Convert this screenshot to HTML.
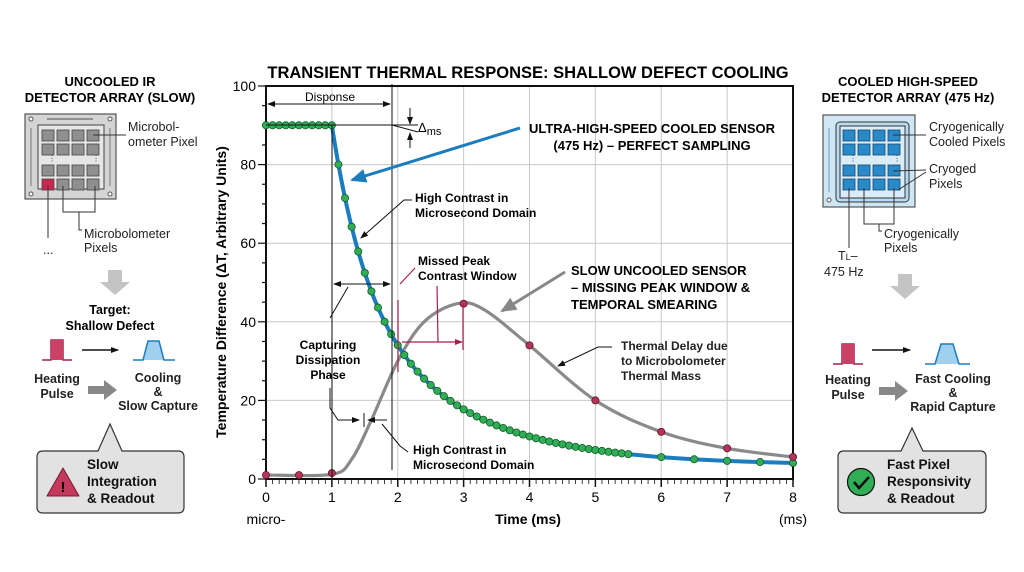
<!DOCTYPE html>
<html><head><meta charset="utf-8"><style>
html,body{margin:0;padding:0;background:#fff;}
svg{display:block;font-family:"Liberation Sans",Arial,sans-serif;}
.b{font-weight:bold;}
</style></head><body>
<svg id="s" width="1024" height="572" viewBox="0 0 1024 572" xmlns="http://www.w3.org/2000/svg">
<defs>
<marker id="ak" markerWidth="8" markerHeight="8" refX="7" refY="4" orient="auto-start-reverse" markerUnits="userSpaceOnUse"><path d="M0,1 L8,4 L0,7 z" fill="#111"/></marker>
<marker id="ar" markerWidth="8" markerHeight="8" refX="7" refY="4" orient="auto" markerUnits="userSpaceOnUse"><path d="M0,1 L8,4 L0,7 z" fill="#a3224a"/></marker>
<marker id="ab" markerWidth="16" markerHeight="14" refX="14" refY="7" orient="auto" markerUnits="userSpaceOnUse"><path d="M0,0 L16,7 L0,14 z" fill="#1a7dc0"/></marker>
<marker id="ag" markerWidth="16" markerHeight="14" refX="14" refY="7" orient="auto" markerUnits="userSpaceOnUse"><path d="M0,0 L16,7 L0,14 z" fill="#888"/></marker>
</defs>
<rect width="1024" height="572" fill="#fff"/>
<g id="grid" stroke="#c8c8c8" stroke-width="1"></g>
<text x="528" y="78" text-anchor="middle" class="b" font-size="16.5">TRANSIENT THERMAL RESPONSE: SHALLOW DEFECT COOLING</text>
<g id="axes"></g>
<g id="curves"></g>

<g stroke="#111" stroke-width="1" fill="none">
<line x1="266" y1="125" x2="418" y2="125"/>
<line x1="392" y1="125" x2="418" y2="132"/>
<line x1="392" y1="84" x2="392" y2="470"/>
<line x1="332" y1="125" x2="332" y2="479"/>
<line x1="268" y1="104" x2="390" y2="104" marker-end="url(#ak)" marker-start="url(#ak)"/>
<line x1="410" y1="108" x2="410" y2="124" marker-end="url(#ak)"/>
<line x1="410" y1="148" x2="410" y2="133" marker-end="url(#ak)"/>
<line x1="334" y1="284" x2="390" y2="284" marker-end="url(#ak)" marker-start="url(#ak)"/>
<path d="M412,200 L404,200 L361,238" marker-end="url(#ak)"/>
<path d="M348,287 L330,318 M330,388 L330,408 L338,420 L359,420" marker-end="url(#ak)"/>
<line x1="387" y1="420" x2="368" y2="420" marker-end="url(#ak)"/>
<line x1="364" y1="413" x2="364" y2="427"/>
<path d="M408,452 L400,446 L382,424"/>
<path d="M612,347 L598,347 L558,366" marker-end="url(#ak)"/>
</g>
<g stroke="#a3224a" stroke-width="1.2" fill="none">
<line x1="398" y1="300" x2="398" y2="372"/>
<line x1="415" y1="268" x2="400" y2="284"/>
<line x1="437" y1="286" x2="438" y2="342"/>
<line x1="463" y1="304" x2="463" y2="350"/>
<line x1="402" y1="342" x2="462" y2="342" marker-end="url(#ar)"/>
</g>
<line x1="520" y1="128" x2="352" y2="180" stroke="#1a7dc0" stroke-width="3" marker-end="url(#ab)"/>
<line x1="565" y1="272" x2="502" y2="311" stroke="#888" stroke-width="3" marker-end="url(#ag)"/>

<text x="330" y="101" text-anchor="middle" font-size="12">Disponse</text>
<text x="418" y="132" font-size="13">Δ<tspan font-size="11" dy="3">ms</tspan></text>
<text class="b" font-size="13" text-anchor="middle"><tspan x="652" y="133">ULTRA-HIGH-SPEED COOLED SENSOR</tspan><tspan x="652" y="150">(475 Hz) – PERFECT SAMPLING</tspan></text>
<text font-size="12" class="b"><tspan x="415" y="202">High Contrast in</tspan><tspan x="415" y="217">Microsecond Domain</tspan></text>
<text font-size="12" class="b"><tspan x="418" y="265">Missed Peak</tspan><tspan x="418" y="280">Contrast Window</tspan></text>
<text font-size="13" class="b"><tspan x="571" y="275">SLOW UNCOOLED SENSOR</tspan><tspan x="571" y="292">– MISSING PEAK WINDOW &amp;</tspan><tspan x="571" y="309">TEMPORAL SMEARING</tspan></text>
<text font-size="12" class="b" fill="#222"><tspan x="621" y="350">Thermal Delay due</tspan><tspan x="621" y="365">to Microbolometer</tspan><tspan x="621" y="380">Thermal Mass</tspan></text>
<text font-size="12" class="b" text-anchor="middle"><tspan x="328" y="349">Capturing</tspan><tspan x="328" y="364">Dissipation</tspan><tspan x="328" y="379">Phase</tspan></text>
<text font-size="12" class="b"><tspan x="413" y="454">High Contrast in</tspan><tspan x="413" y="469">Microsecond Domain</tspan></text>

<!-- LEFT PANEL -->
<text class="b" font-size="13" text-anchor="middle"><tspan x="110" y="86">UNCOOLED IR</tspan><tspan x="110" y="102">DETECTOR ARRAY (SLOW)</tspan></text>
<rect x="25" y="114" width="91" height="85" fill="#d4d4d4" stroke="#555" stroke-width="1.2"/>
<rect x="38" y="125" width="66" height="64" fill="#e6e6e6" stroke="#444" stroke-width="1"/>
<line x1="47" y1="119" x2="93" y2="119" stroke="#666" stroke-width="1.2"/>
<line x1="31" y1="128" x2="31" y2="186" stroke="#888" stroke-width="1.2"/>
<line x1="110" y1="128" x2="110" y2="186" stroke="#888" stroke-width="1.2"/>
<g fill="#fff" stroke="#555"><circle cx="31" cy="119" r="2"/><circle cx="110" cy="119" r="2"/><circle cx="31" cy="194" r="2"/><circle cx="110" cy="194" r="2"/></g>
<g id="lpix"></g>
<g stroke="#333" stroke-width="1" fill="none">
<line x1="93" y1="135" x2="126" y2="135"/>
<line x1="48" y1="186" x2="48" y2="238"/>
<path d="M63,186 L63,212 L95,212 L95,186 M79,212 L79,230 L82,230"/>
</g>
<text font-size="12.5" fill="#222"><tspan x="128" y="131">Microbol-</tspan><tspan x="128" y="146">ometer Pixel</tspan><tspan x="84" y="238">Microbolometer</tspan><tspan x="84" y="252">Pixels</tspan><tspan x="43" y="254">...</tspan></text>
<path d="M108,270 h14 v12 h8 l-15,13 l-15,-13 h8 z" fill="#c4c4c4"/>
<text class="b" font-size="12.5" text-anchor="middle"><tspan x="110" y="314">Target:</tspan><tspan x="110" y="330">Shallow Defect</tspan></text>
<path d="M42,360 h9 v-20 h12 v20 h9" fill="#e6b8c2" stroke="#a3224a" stroke-width="1.5"/>
<path d="M51,360 v-20 h12 v20 z" fill="#c94164"/>
<line x1="82" y1="350" x2="118" y2="350" stroke="#111" stroke-width="1.5" marker-end="url(#ak)"/>
<path d="M133,360 h10 l5,-19 h11 l5,19 h11" fill="#9fd1ee" stroke="#1a7dc0" stroke-width="1.5"/>
<path d="M88,386 h16 v-6 l13,10 l-13,10 v-6 h-16 z" fill="#888"/>
<text class="b" font-size="12.5" text-anchor="middle" fill="#222"><tspan x="57" y="383">Heating</tspan><tspan x="57" y="398">Pulse</tspan><tspan x="158" y="382">Cooling</tspan><tspan x="158" y="396">&amp;</tspan><tspan x="158" y="410">Slow Capture</tspan></text>
<path d="M43,451 H98 L110,424 L122,451 H178 q6,0 6,6 V507 q0,6 -6,6 H43 q-6,0 -6,-6 V457 q0,-6 6,-6 z" fill="#e2e2e2" stroke="#333" stroke-width="1.2"/>
<path d="M63,468 L79,496 H47 z" fill="#c43a5c" stroke="#7a1a33" stroke-width="1" stroke-linejoin="round"/>
<text x="63" y="492" text-anchor="middle" class="b" font-size="15">!</text>
<text class="b" font-size="13.5" fill="#111"><tspan x="87" y="469">Slow</tspan><tspan x="87" y="486">Integration</tspan><tspan x="87" y="503">&amp; Readout</tspan></text>

<!-- RIGHT PANEL -->
<text class="b" font-size="13" text-anchor="middle"><tspan x="908" y="86">COOLED HIGH-SPEED</tspan><tspan x="908" y="102">DETECTOR ARRAY (475 Hz)</tspan></text>
<rect x="823" y="115" width="92" height="92" fill="#cfe6f4" stroke="#555" stroke-width="1.2"/>
<rect x="836" y="122" width="73" height="80" rx="4" fill="#b7dcf2" stroke="#333" stroke-width="1"/>
<rect x="840" y="126" width="65" height="72" fill="#d9ecf8" stroke="#333" stroke-width="1"/>
<line x1="829" y1="128" x2="829" y2="192" stroke="#7aa6c2" stroke-width="1.2"/>
<circle cx="829" cy="200" r="2" fill="#fff" stroke="#555"/>
<g id="rpix"></g>
<g stroke="#333" stroke-width="1" fill="none">
<line x1="893" y1="135" x2="926" y2="135"/>
<path d="M893,171 L926,170 M898,190 L926,172"/>
<line x1="849" y1="188" x2="849" y2="248"/>
<path d="M864,188 L864,224 L894,224 L894,188 M879,224 L879,231 L882,231"/>
</g>
<text font-size="12.5" fill="#222"><tspan x="929" y="131">Cryogenically</tspan><tspan x="929" y="146">Cooled Pixels</tspan><tspan x="929" y="173">Cryoged</tspan><tspan x="929" y="188">Pixels</tspan><tspan x="884" y="238">Cryogenically</tspan><tspan x="884" y="252">Pixels</tspan><tspan x="838" y="260">T<tspan font-size="9">L</tspan>–</tspan><tspan x="824" y="276">475 Hz</tspan></text>
<path d="M898,274 h14 v12 h8 l-15,13 l-15,-13 h8 z" fill="#c4c4c4"/>
<path d="M833,364 h9 v-20 h12 v20 h9" fill="#e6b8c2" stroke="#a3224a" stroke-width="1.5"/>
<path d="M842,364 v-20 h12 v20 z" fill="#c94164"/>
<line x1="872" y1="350" x2="910" y2="350" stroke="#111" stroke-width="1.5" marker-end="url(#ak)"/>
<path d="M925,364 h10 l6,-20 h12 l6,20 h11" fill="#9fd1ee" stroke="#1a7dc0" stroke-width="1.5"/>
<path d="M879,387 h16 v-6 l13,10 l-13,10 v-6 h-16 z" fill="#888"/>
<text class="b" font-size="12.5" text-anchor="middle" fill="#222"><tspan x="848" y="384">Heating</tspan><tspan x="848" y="399">Pulse</tspan><tspan x="953" y="383">Fast Cooling</tspan><tspan x="953" y="397">&amp;</tspan><tspan x="953" y="411">Rapid Capture</tspan></text>
<path d="M844,451 H901 L912,428 L923,451 H980 q6,0 6,6 V507 q0,6 -6,6 H844 q-6,0 -6,-6 V457 q0,-6 6,-6 z" fill="#e2e2e2" stroke="#333" stroke-width="1.2"/>
<circle cx="861" cy="482" r="13.5" fill="#2fae55" stroke="#111" stroke-width="1.2"/>
<path d="M854,482 l5,6 l10,-11" fill="none" stroke="#111" stroke-width="2.6"/>
<text class="b" font-size="13.5" fill="#111"><tspan x="887" y="469">Fast Pixel</tspan><tspan x="887" y="486">Responsivity</tspan><tspan x="887" y="503">&amp; Readout</tspan></text>
</svg>
<script>
var NS="http://www.w3.org/2000/svg";
function el(p,t,a,txt){var e=document.createElementNS(NS,t);for(var k in a)e.setAttribute(k,a[k]);if(txt!==undefined)e.textContent=txt;document.getElementById(p).appendChild(e);return e;}
var X0=266,XS=65.875,Y0=479,YS=3.93;
function X(t){return X0+t*XS;} function Y(v){return Y0-v*YS;}
for(var i=1;i<8;i++)el("grid","line",{x1:X(i),y1:86,x2:X(i),y2:479});
for(var v=20;v<100;v+=20)el("grid","line",{x1:266,y1:Y(v),x2:793,y2:Y(v)});
el("axes","rect",{x:266,y:86,width:527,height:393,fill:"none",stroke:"#111","stroke-width":2});
for(var i=0;i<=80;i++){var x=X(i/10);el("axes","line",{x1:x,y1:479,x2:x,y2:i%10==0?487:484,stroke:"#111","stroke-width":i%10==0?1.5:0.8});}
for(var v=0;v<=100;v+=5){el("axes","line",{x1:266,y1:Y(v),x2:v%20==0?258:262,y2:Y(v),stroke:"#111","stroke-width":1.2});}
for(var i=0;i<=8;i++)el("axes","text",{x:X(i),y:502,"text-anchor":"middle","font-size":14},""+i);
for(var v=0;v<=100;v+=20)el("axes","text",{x:256,y:Y(v)+5,"text-anchor":"end","font-size":14},""+v);
el("axes","text",{x:266,y:524,"text-anchor":"middle","font-size":14},"micro-");
el("axes","text",{x:793,y:524,"text-anchor":"middle","font-size":14},"(ms)");
el("axes","text",{x:528,y:524,"text-anchor":"middle","font-size":14,"font-weight":"bold"},"Time (ms)");
el("axes","text",{x:0,y:0,"text-anchor":"middle","font-size":14,"font-weight":"bold",transform:"translate(226,292) rotate(-90)"},"Temperature Difference (ΔT, Arbitrary Units)");
function fb(t){if(t<=1)return 90;var d=t-1;return 3.5+39.4*Math.exp(-d/0.5)+47.1*Math.exp(-d/1.6);}
var gp=[[0,1],[1,1.2],[1.3,5],[1.6,15],[2,30],[2.4,40],[2.9,44.6],[3.3,43.2],[4,34],[5,20],[6,12],[7,7.8],[8,5.6]];
function cr(pts){var d="M"+X(pts[0][0])+","+Y(pts[0][1]);for(var i=0;i<pts.length-1;i++){var p0=pts[Math.max(0,i-1)],p1=pts[i],p2=pts[i+1],p3=pts[Math.min(pts.length-1,i+2)];
var c1x=X(p1[0])+(X(p2[0])-X(p0[0]))/6,c1y=Y(p1[1])+(Y(p2[1])-Y(p0[1]))/6,c2x=X(p2[0])-(X(p3[0])-X(p1[0]))/6,c2y=Y(p2[1])-(Y(p3[1])-Y(p1[1]))/6;
d+=" C"+c1x+","+c1y+" "+c2x+","+c2y+" "+X(p2[0])+","+Y(p2[1]);}return d;}
el("curves","path",{d:cr(gp),fill:"none",stroke:"#8a8a8a","stroke-width":3.2});
var d="M"+X(1)+","+Y(90);for(var t=1;t<=8.0001;t+=0.02)d+=" L"+X(t)+","+Y(fb(t));
el("curves","path",{d:d,fill:"none",stroke:"#1a7dc0","stroke-width":4});
var ts=[];for(var t=0;t<=5.5001;t+=0.1)ts.push(t);for(var t=6;t<=8.001;t+=0.5)ts.push(t);
ts.forEach(function(t){el("curves","circle",{cx:X(t),cy:Y(fb(t)),r:3.6,fill:"#2fae55",stroke:"#145a2a","stroke-width":0.8});});
[[0,1],[0.5,1],[1,1.5],[3,44.6],[4,34],[5,20],[6,12],[7,7.8],[8,5.6]].forEach(function(p){el("curves","circle",{cx:X(p[0]),cy:Y(p[1]),r:3.6,fill:"#b8335a",stroke:"#5a1a2a","stroke-width":0.8});});
function pix(g,x0,y0,cols,rows,fill,st,red){for(var r=0;r<rows.length;r++)for(var c=0;c<4;c++){var f=(red&&r==3&&c==0)?"#c8294f":fill;el(g,"rect",{x:x0+c*cols,y:rows[r],width:cols-3,height:rows[1]-rows[0]-3,fill:f,stroke:st,"stroke-width":0.8});}}
pix("lpix",42,0,15,[130,144,165,179],"#8f8f8f","#444",true);
el("lpix","text",{x:48,y:161,"font-size":8,fill:"#333"},"⋮");el("lpix","text",{x:92,y:161,"font-size":8,fill:"#333"},"⋮");
pix("rpix",843,0,15,[130,144,165,179],"#2a89c9","#144a70",false);
el("rpix","text",{x:849,y:161,"font-size":8,fill:"#333"},"⋮");el("rpix","text",{x:893,y:161,"font-size":8,fill:"#333"},"⋮");
</script>
</body></html>
